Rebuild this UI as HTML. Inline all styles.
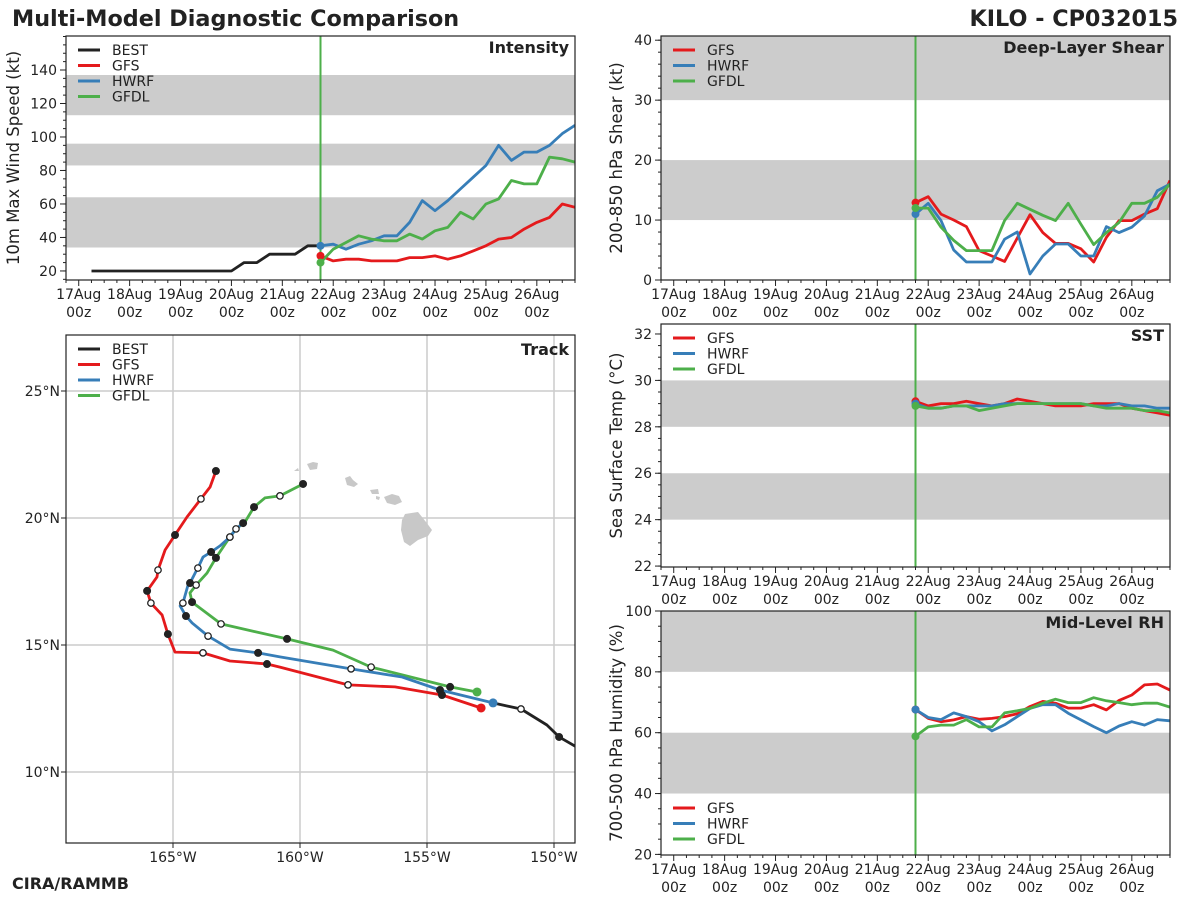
<!DOCTYPE html>
<html><head><meta charset="utf-8">
<style>
body{margin:0;background:#fff;}
svg{display:block;font-family:"DejaVu Sans","Liberation Sans",sans-serif;}
</style></head>
<body>
<svg id="fig" width="1200" height="900" viewBox="0 0 1200 900">
<text x="12" y="26" font-size="22.3" font-weight="bold" fill="#222">Multi-Model Diagnostic Comparison</text>
<text x="1178" y="26" font-size="22.3" font-weight="bold" fill="#222" text-anchor="end">KILO - CP032015</text>
<text x="12" y="889" font-size="16" font-weight="bold" fill="#222">CIRA/RAMMB</text>
</svg>
<script>
// ---------- data ----------
const bestTimes = [6,12,18,24,30,36,42,48,54,60,66,72,78,84,90,96,102,108,114];
const bestIntensity = [20,20,20,20,20,20,20,20,20,20,20,20,25,25,30,30,30,35,35];
const modelTimes = [114,120,126,132,138,144,150,156,162,168,174,180,186,192,198,204,210,216,222,228,234];
const gfsIntensity = [29,26,27,27,26,26,26,28,28,29,27,29,32,35,39,40,45,49,52,60,58];
const hwrfIntensity = [35,36,33,36,38,41,41,49,62,56,62,69,76,83,95,86,91,91,95,102,107];
const gfdlIntensity = [25,33,37,41,39,38,38,42,39,44,46,55,51,60,63,74,72,72,88,87,85];
const gfsShear = [12.9,13.9,11,10,8.9,4.9,4,3.1,7,10.9,7.9,6.1,6.1,5.2,3,7.1,9.9,9.9,11,11.9,16.6];
const hwrfShear = [11,12.8,9.9,5,3,3,3,6.8,8,1,4,6,6,4,4,8.9,7.9,8.8,10.7,14.9,16];
const gfdlShear = [12,12,8.8,6.6,4.9,4.9,4.9,9.9,12.8,11.8,10.8,9.9,12.8,9.3,5.9,7.9,9.6,12.8,12.8,13.8,16];
const gfsSST = [29.1,28.9,29,29,29.1,29,28.9,29,29.2,29.1,29,28.9,28.9,28.9,29,29,29,28.8,28.7,28.6,28.5];
const hwrfSST = [29,28.8,28.8,28.9,28.9,28.9,28.9,29,29,29,29,29,29,29,28.9,28.9,29,28.9,28.9,28.8,28.8];
const gfdlSST = [28.9,28.8,28.8,28.9,28.9,28.7,28.8,28.9,29,29,29,29,29,29,28.9,28.8,28.8,28.8,28.7,28.7,28.6];
const gfsRH = [67.6,64.7,63.6,64.2,65.3,64.4,64.7,65.3,66.2,68.6,70.3,69.7,68.1,68.1,69.2,67.5,70.6,72.4,75.7,76,74];
const hwrfRH = [67.6,65,64.3,66.5,65.3,63.6,60.6,62.6,65.3,68,69.2,69.2,66.4,64.2,62,60,62.2,63.6,62.5,64.3,63.9];
const gfdlRH = [58.8,61.9,62.5,62.5,64.3,61.9,61.9,66.5,67.2,68,69.7,71,69.9,69.9,71.5,70.5,69.9,69.2,69.7,69.7,68.4];
const dayLabels = ["17Aug","18Aug","19Aug","20Aug","21Aug","22Aug","23Aug","24Aug","25Aug","26Aug"];
const intensityTicks = [20,40,60,80,100,120,140];
const shearTicks = [0,10,20,30,40];
const sstTicks = [22,24,26,28,30,32];
const rhTicks = [20,40,60,80,100];
const initTime = 114;
// track data (lon, lat)
const bestLon = [-152.4,-151.3,-150.28,-149.8,-148.58];
const bestLat = [12.72,12.48,11.85,11.38,10.67];
const bestMark = ["","o","","f",""];
const gfsLon = [-152.87,-154.41,-156.26,-158.11,-160.79,-161.30,-162.76,-163.82,-164.92,-165.20,-165.43,-165.87,-166.02,-165.63,-165.59,-165.31,-164.92,-164.45,-163.90,-163.54,-163.31];
const gfsLat = [12.52,13.03,13.35,13.43,14.13,14.25,14.37,14.69,14.72,15.43,16.18,16.65,17.13,17.68,17.95,18.74,19.33,20.04,20.75,21.22,21.85];
const gfsMark = ["s","f","","o","","f","","o","","f","","o","f","","o","","f","","o","","f"];
const hwrfLon = [-152.40,-154.49,-155.98,-157.99,-160.79,-161.65,-162.76,-163.62,-164.25,-164.49,-164.72,-164.61,-164.41,-164.33,-164.13,-164.02,-163.82,-163.50,-163.15,-162.76,-162.52,-162.24];
const hwrfLat = [12.72,13.23,13.74,14.06,14.53,14.69,14.84,15.35,15.87,16.14,16.54,16.65,17.36,17.44,17.83,18.03,18.46,18.66,18.90,19.25,19.57,19.80];
const hwrfMark = ["s","f","","o","","f","","o","","f","","o","","f","","o","","f","","o","","f"];
const gfdlLon = [-153.03,-154.09,-157.20,-158.70,-160.51,-163.11,-164.25,-164.33,-164.09,-163.66,-163.31,-162.76,-162.52,-162.17,-161.81,-161.38,-160.79,-159.88];
const gfdlLat = [13.15,13.35,14.13,14.80,15.24,15.83,16.69,17.05,17.36,17.83,18.43,19.25,19.57,19.84,20.43,20.79,20.87,21.34];
const gfdlMark = ["s","f","o","","f","o","f","","o","","f","o","o","","f","","o","f"];
const lonTicks = [-165,-160,-155,-150];
const latTicks = [10,15,20,25];

const C = {best:"#222222", gfs:"#e41a1c", hwrf:"#377eb8", gfdl:"#4daf4a"};
const NS = "http://www.w3.org/2000/svg";
const fig = document.getElementById("fig");
function el(tag, attrs, parent){
  const e = document.createElementNS(NS, tag);
  for (const k in attrs) e.setAttribute(k, attrs[k]);
  (parent||fig).appendChild(e);
  return e;
}

function timePanel(p){
  const L=p.left, T=p.top, R=p.left+509, B=p.top+p.h;
  const g = el("g", {});
  
  
  const xs = h => L + (h+6)/240*509;
  const ys = v => B - (v - p.ymin)/(p.ymax - p.ymin)*p.h;
  const clipId = p.name + "-clip";
  const cp = el("clipPath", {id: clipId}, g);
  el("rect", {x:L, y:T, width:509, height:p.h}, cp);
  const inner = el("g", {"clip-path":"url(#"+clipId+")"}, g);
  p.bands.forEach(b => {
    const r = el("rect", {x:L, y:ys(b[1]), width:509, height:ys(b[0])-ys(b[1]), fill:"#cccccc"}, inner);
    
    
  });
  const vl = el("line", {x1:xs(initTime), x2:xs(initTime), y1:T, y2:B, stroke:C.gfdl, "stroke-width":2}, inner);
  
  
  p.series.forEach(s => {
    const pts = s.v.map((v,i) => xs(s.t[i]).toFixed(1)+","+ys(v).toFixed(1)).join(" ");
    const pl = el("polyline", {points:pts, fill:"none", stroke:s.c, "stroke-width":2.8, "stroke-linejoin":"round"}, inner);
    
    
  });
  p.series.forEach(s => {
    if (s.dot){
      const d = el("circle", {cx:xs(s.t[0]), cy:ys(s.v[0]), r:4, fill:s.c}, inner);
      
      
    }
  });
  const fr = el("rect", {x:L, y:T, width:509, height:p.h, fill:"none", stroke:"#222", "stroke-width":1.2}, g);
  
  
  for (let h=-6; h<=234; h+=6){
    const major = h%24===0;
    el("line", {x1:xs(h), x2:xs(h), y1:B, y2:B+(major?6:3), stroke:"#222", "stroke-width":1}, g);
  }
  dayLabels.forEach((d,i) => {
    const t = el("text", {x:xs(i*24), y:B+19, "font-size":14, fill:"#222", "text-anchor":"middle"}, g);
    t.textContent = d;
    
    
    const t2 = el("text", {x:xs(i*24), y:B+37, "font-size":14, fill:"#222", "text-anchor":"middle"}, g);
    t2.textContent = "00z";
    
    
  });
  for (let v=Math.ceil(p.ymin/p.minor)*p.minor; v<=p.ymax+1e-6; v+=p.minor){
    el("line", {x1:L, x2:L-3, y1:ys(v), y2:ys(v), stroke:"#222", "stroke-width":1}, g);
  }
  p.ticks.forEach(v => {
    el("line", {x1:L, x2:L-6, y1:ys(v), y2:ys(v), stroke:"#222", "stroke-width":1}, g);
    const t = el("text", {x:L-9, y:ys(v)+5, "font-size":14, fill:"#222", "text-anchor":"end"}, g);
    t.textContent = v;
    
    
  });
  const yl = el("text", {x:0, y:0, "font-size":16.5, fill:"#222", "text-anchor":"middle", transform:"translate("+(p.ylx)+","+(T+p.h/2)+") rotate(-90)"}, g);
  yl.textContent = p.ylabel;
  
  
  const tt = el("text", {x:R-6, y:T+17, "font-size":16, "font-weight":"bold", fill:"#222", "text-anchor":"end"}, g);
  tt.textContent = p.title;
  
  
  legend(g, L+12, p.legY, p.series);
}

function legend(g, x, y, series){
  series.forEach((s,i) => {
    const yy = y + i*15.5;
    const ln = el("line", {x1:x, x2:x+22, y1:yy, y2:yy, stroke:s.c, "stroke-width":3}, g);
    
    
    const t = el("text", {x:x+34, y:yy+5, "font-size":14, fill:"#222"}, g);
    t.textContent = s.n;
    
    
  });
}

timePanel({name:"intensity", left:66, top:36, h:244, ymin:14.6, ymax:160.3, minor:5, ticks:intensityTicks,
  bands:[[34,64],[83,96],[113,137]], title:"Intensity", ylabel:"10m Max Wind Speed (kt)", ylx:19, legY:50,
  series:[{n:"BEST",c:C.best,t:bestTimes,v:bestIntensity},{n:"GFS",c:C.gfs,t:modelTimes,v:gfsIntensity,dot:1},
          {n:"HWRF",c:C.hwrf,t:modelTimes,v:hwrfIntensity,dot:1},{n:"GFDL",c:C.gfdl,t:modelTimes,v:gfdlIntensity,dot:1}]});
timePanel({name:"shear", left:661, top:36, h:244, ymin:0, ymax:40.7, minor:2, ticks:shearTicks,
  bands:[[10,20],[30,50]], title:"Deep-Layer Shear", ylabel:"200-850 hPa Shear (kt)", ylx:622, legY:50,
  series:[{n:"GFS",c:C.gfs,t:modelTimes,v:gfsShear,dot:1},{n:"HWRF",c:C.hwrf,t:modelTimes,v:hwrfShear,dot:1},{n:"GFDL",c:C.gfdl,t:modelTimes,v:gfdlShear,dot:1}]});
timePanel({name:"sst", left:661, top:324, h:243, ymin:21.96, ymax:32.43, minor:0.5, ticks:sstTicks,
  bands:[[24,26],[28,30]], title:"SST", ylabel:"Sea Surface Temp (°C)", ylx:622, legY:338,
  series:[{n:"GFS",c:C.gfs,t:modelTimes,v:gfsSST,dot:1},{n:"HWRF",c:C.hwrf,t:modelTimes,v:hwrfSST,dot:1},{n:"GFDL",c:C.gfdl,t:modelTimes,v:gfdlSST,dot:1}]});
timePanel({name:"rh", left:661, top:611, h:244, ymin:19.8, ymax:100, minor:5, ticks:rhTicks,
  bands:[[40,60],[80,100]], title:"Mid-Level RH", ylabel:"700-500 hPa Humidity (%)", ylx:622, legY:808,
  series:[{n:"GFS",c:C.gfs,t:modelTimes,v:gfsRH,dot:1},{n:"HWRF",c:C.hwrf,t:modelTimes,v:hwrfRH,dot:1},{n:"GFDL",c:C.gfdl,t:modelTimes,v:gfdlRH,dot:1}]});

// ---------- track ----------
(function(){
  const L=66, T=335, Wd=509, Hd=508, R=L+Wd, B=T+Hd;
  const g = el("g", {});
  
  
  const xs = lon => 173 + (lon + 165)*25.4;
  const ys = lat => 518 - (lat - 20)*25.4;
  const cp = el("clipPath", {id:"track-clip"}, g);
  el("rect", {x:L, y:T, width:Wd, height:Hd}, cp);
  const inner = el("g", {"clip-path":"url(#track-clip)"}, g);
  lonTicks.forEach(v => el("line", {x1:xs(v), x2:xs(v), y1:T, y2:B, stroke:"#cccccc", "stroke-width":1.5}, inner));
  latTicks.forEach(v => el("line", {x1:L, x2:R, y1:ys(v), y2:ys(v), stroke:"#cccccc", "stroke-width":1.5}, inner));
  const isl = el("g", {fill:"#c8c8c8"}, inner);
  
  
  el("path", {d:"M405,514 L418,512 L426,522 L432,530 L428,536 L418,540 L410,546 L404,542 L401,530 L402,520 Z"}, isl);
  el("path", {d:"M384,497 L392,494 L399,496 L402,502 L395,505 L387,503 Z M370,490 L378,489 L379,494 L372,494 Z M376,496 L380,497 L379,500 L376,499 Z"}, isl);
  el("path", {d:"M345,478 L350,476 L353,480 L358,484 L354,487 L347,485 Z"}, isl);
  el("path", {d:"M307,464 L313,462 L318,463 L317,469 L310,470 Z M294,471 L298,468 L299,471 Z"}, isl);
  const tracks = [
    {n:"best", c:C.best, lon:bestLon, lat:bestLat, m:bestMark},
    {n:"gfdl", c:C.gfdl, lon:gfdlLon, lat:gfdlLat, m:gfdlMark},
    {n:"hwrf", c:C.hwrf, lon:hwrfLon, lat:hwrfLat, m:hwrfMark},
    {n:"gfs", c:C.gfs, lon:gfsLon, lat:gfsLat, m:gfsMark}
  ];
  tracks.forEach(tr => {
    const pts = tr.lon.map((v,i) => xs(v).toFixed(1)+","+ys(tr.lat[i]).toFixed(1)).join(" ");
    const pl = el("polyline", {points:pts, fill:"none", stroke:tr.c, "stroke-width":2.8, "stroke-linejoin":"round"}, inner);
    
    
  });
  tracks.forEach(tr => {
    tr.m.forEach((m,i) => {
      if (!m) return;
      const at = m==="s" ? {r:4.5, fill:tr.c} : m==="f" ? {r:3.5, fill:"#222", stroke:"#222"} : {r:3.2, fill:"#fff", stroke:"#222", "stroke-width":1.3};
      at.cx = xs(tr.lon[i]); at.cy = ys(tr.lat[i]);
      const c = el("circle", at, inner);
      
      
    });
  });
  const fr = el("rect", {x:L, y:T, width:Wd, height:Hd, fill:"none", stroke:"#222", "stroke-width":1.2}, g);
  
  
  lonTicks.forEach(v => {
    el("line", {x1:xs(v), x2:xs(v), y1:B, y2:B+5, stroke:"#222"}, g);
    const t = el("text", {x:xs(v), y:B+19, "font-size":14, fill:"#222", "text-anchor":"middle"}, g);
    t.textContent = Math.abs(v) + "°W";
    
    
  });
  latTicks.forEach(v => {
    el("line", {x1:L, x2:L-5, y1:ys(v), y2:ys(v), stroke:"#222"}, g);
    const t = el("text", {x:L-6, y:ys(v)+5, "font-size":14, fill:"#222", "text-anchor":"end"}, g);
    t.textContent = v + "°N";
    
    
  });
  const tt = el("text", {x:R-6, y:T+20, "font-size":16, "font-weight":"bold", fill:"#222", "text-anchor":"end"}, g);
  tt.textContent = "Track";
  
  
  legend(g, 78, 349, [{n:"BEST",c:C.best},{n:"GFS",c:C.gfs},{n:"HWRF",c:C.hwrf},{n:"GFDL",c:C.gfdl}]);
})();
</script>
</body></html>
